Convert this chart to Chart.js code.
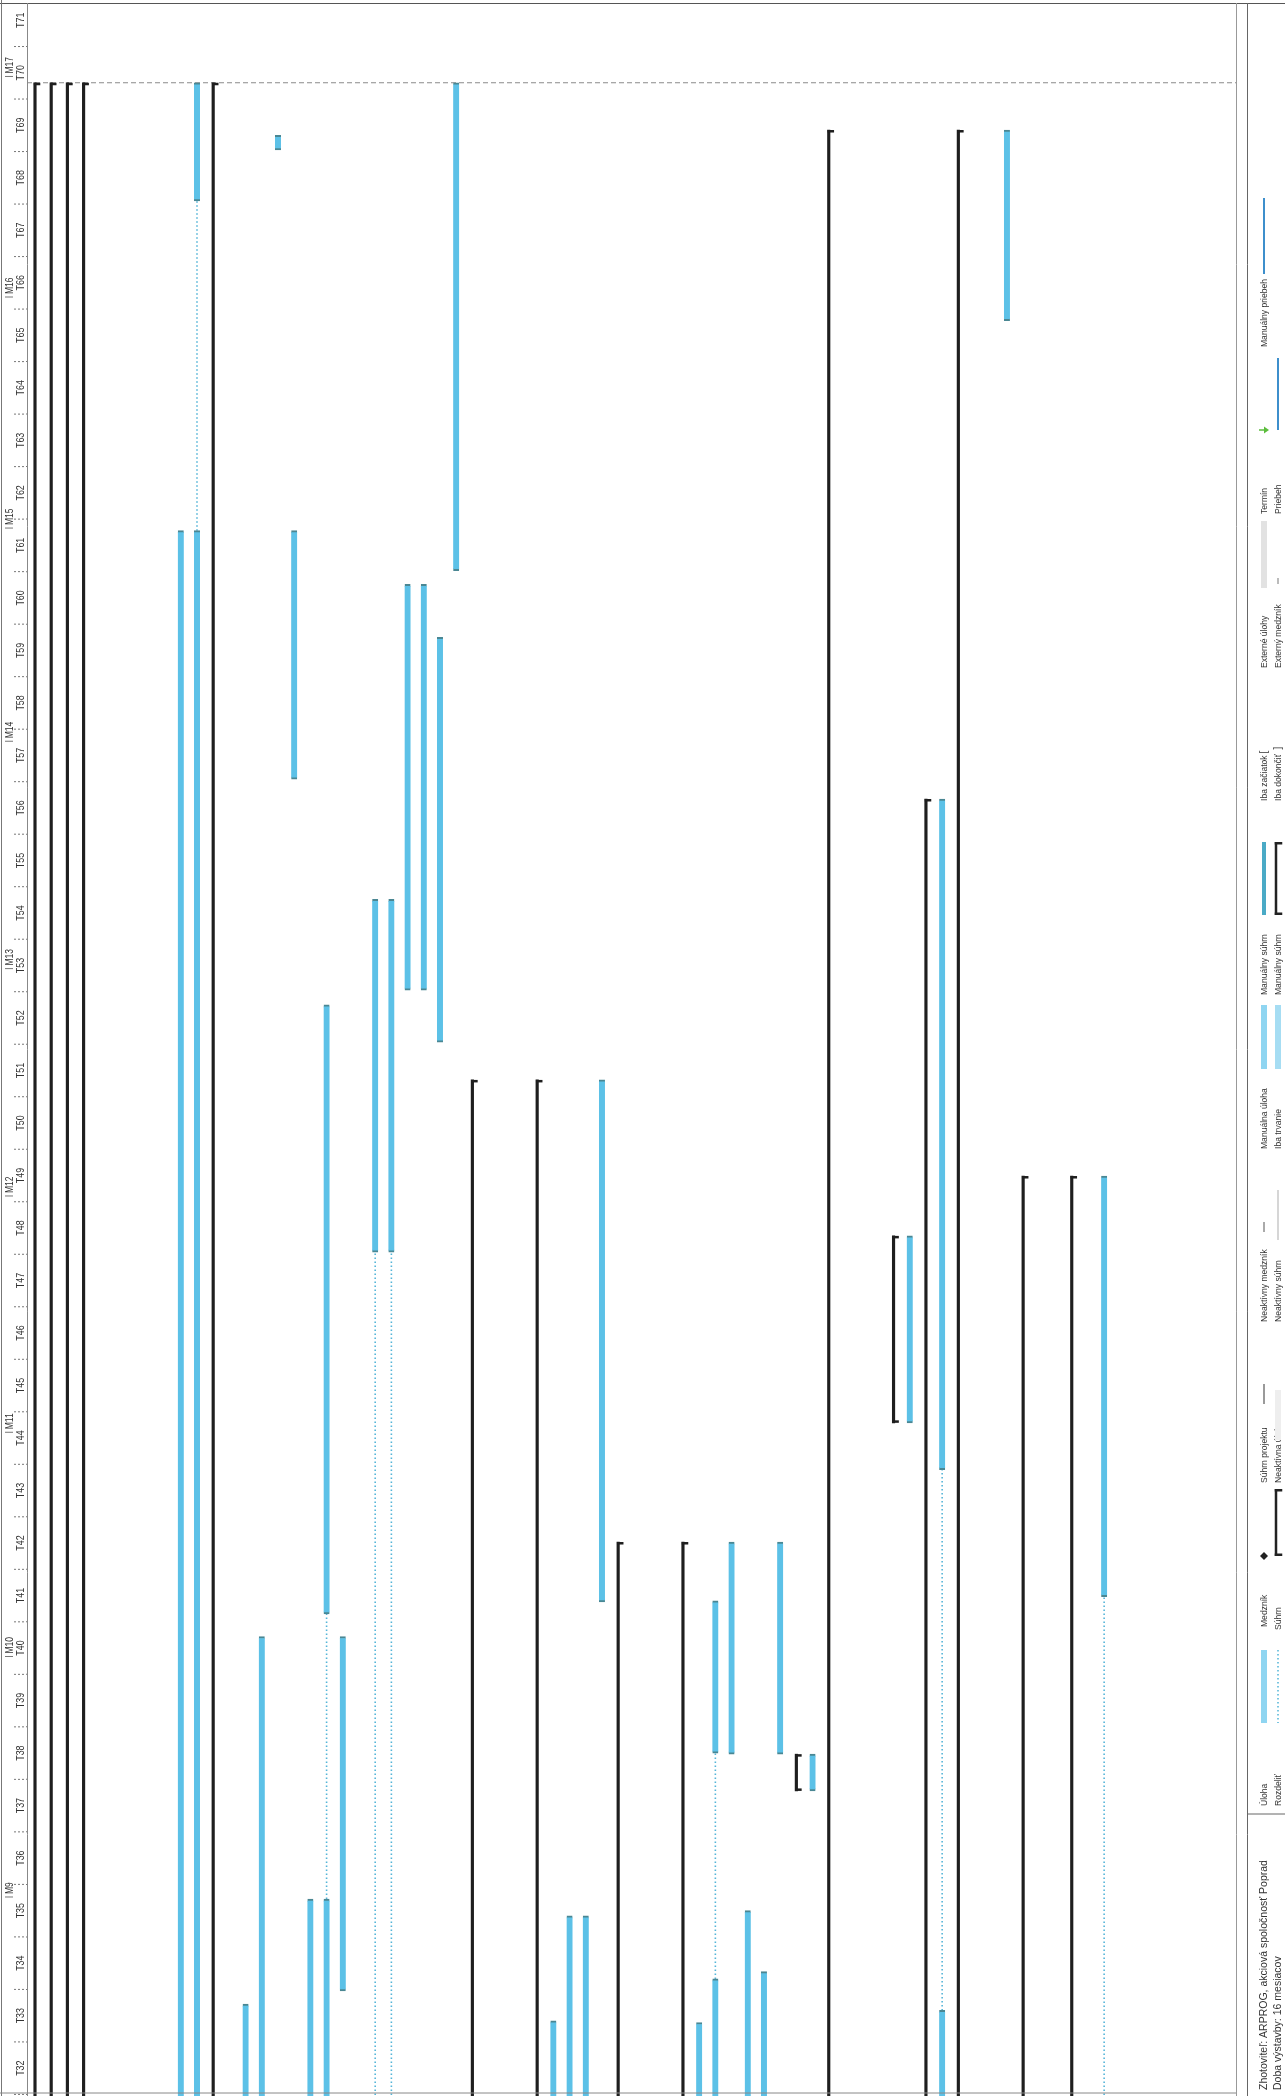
<!DOCTYPE html>
<html>
<head>
<meta charset="utf-8">
<title>Harmonogram</title>
<script src="https://cdn.jsdelivr.net/npm/chart.js@4.4.1/dist/chart.umd.min.js"></script>
<style>
    html, body { margin: 0; padding: 0; background: #fff; overflow: hidden; }
    #wrap { position: relative; width: 1285px; height: 2096px; }
</style>
</head>
<body>
<div id="wrap"><canvas id="gantt"></canvas></div>
<script>
// time is counted in weeks, week Tn covers [n, n+1]
const weekLabels = ['T32', 'T33', 'T34', 'T35', 'T36', 'T37', 'T38', 'T39', 'T40', 'T41',
    'T42', 'T43', 'T44', 'T45', 'T46', 'T47', 'T48', 'T49', 'T50', 'T51',
    'T52', 'T53', 'T54', 'T55', 'T56', 'T57', 'T58', 'T59', 'T60', 'T61',
    'T62', 'T63', 'T64', 'T65', 'T66', 'T67', 'T68', 'T69', 'T70', 'T71'];
const monthLabels = ['M9', 'M10', 'M11', 'M12', 'M13', 'M14', 'M15', 'M16', 'M17'];
const monthStarts = [35.76, 40.34, 44.61, 49.11, 53.44, 57.77, 61.83, 66.23, 70.43];

// task bars (row = line of the schedule, start/end in weeks; 31 = started before T32)
const taskRows   = [9, 10, 10, 13, 14, 15, 16, 17, 18, 18, 19, 21, 22, 23, 24, 25, 26,
    32, 33, 34, 35, 41, 42, 42, 43, 44, 45, 46, 48, 54, 56, 56, 60, 66];
const taskStarts = [31, 68.06, 31, 31, 31, 69.03, 57.05, 31, 41.15, 31, 33.97, 48.04, 48.04, 53.03, 53.03, 52.04, 61.02,
    31, 31, 31, 41.38, 31, 38.50, 31, 38.48, 31, 31, 38.48, 37.78, 44.79, 43.90, 31, 65.78, 41.48];
const taskEnds   = [61.78, 70.31, 61.78, 33.72, 40.72, 69.31, 61.78, 35.72, 52.75, 35.72, 40.72, 54.76, 54.76, 60.76, 60.76, 59.75, 70.31,
    33.40, 35.40, 35.40, 51.32, 33.37, 41.40, 34.20, 42.52, 35.50, 34.34, 42.52, 38.48, 48.35, 56.67, 33.60, 69.41, 49.49];

// summary bars
const summaryRows   = [0, 1, 2, 3, 11, 27, 31, 36, 40, 47, 49, 53, 55, 57, 61, 64];
const summaryStarts = [31, 31, 31, 31, 31, 31, 31, 31, 31, 37.78, 31, 44.79, 31, 31, 31, 31];
const summaryEnds   = [70.31, 70.31, 70.31, 70.31, 70.31, 51.32, 51.32, 42.52, 42.52, 38.48, 69.41, 48.35, 56.67, 69.41, 49.49, 49.49];

// split (dotted) parts of tasks
const splitRows   = [10, 18, 21, 22, 42, 56, 66];
const splitStarts = [61.78, 35.72, 31, 31, 34.20, 33.60, 31];
const splitEnds   = [68.06, 41.15, 48.04, 48.04, 38.50, 43.90, 41.48];

const projectEnd = 70.31;

const viewFrom = 31.97, viewTo = 71.81;   // visible weeks
const rowFrom = -0.494, rowTo = 74.14;    // visible rows

const FONT = '"Liberation Sans", Arial, sans-serif';
const INK = '#333';

function vText(ctx, txt, x, y, size, squeeze, align) {
    ctx.save();
    ctx.translate(x, y);
    ctx.rotate(-Math.PI / 2);
    ctx.scale(squeeze, 1);
    ctx.font = size + 'px ' + FONT;
    ctx.fillStyle = INK;
    ctx.textAlign = align;
    ctx.textBaseline = 'middle';
    ctx.fillText(txt, 0, 0);
    ctx.restore();
}

function hLine(ctx, x1, x2, y, color, w, dash) {
    ctx.save();
    ctx.strokeStyle = color; ctx.lineWidth = w;
    ctx.setLineDash(dash || []);
    ctx.beginPath(); ctx.moveTo(x1, y); ctx.lineTo(x2, y); ctx.stroke();
    ctx.restore();
}
function vLine(ctx, x, y1, y2, color, w, dash) {
    ctx.save();
    ctx.strokeStyle = color; ctx.lineWidth = w;
    ctx.setLineDash(dash || []);
    ctx.beginPath(); ctx.moveTo(x, y1); ctx.lineTo(x, y2); ctx.stroke();
    ctx.restore();
}
function bracket(ctx, x, y1, y2, color, w) {
    // vertical stroke with short ticks to the right at both ends
    ctx.fillStyle = color;
    ctx.fillRect(x - w / 2, y1, w, y2 - y1);
    ctx.fillRect(x - w / 2, y1, w + 5, 2.5);
    ctx.fillRect(x - w / 2, y2 - 2.5, w + 5, 2.5);
}

// Legend (drawn in the right margin, rotated like the printout)
const C1 = 1264, C2 = 1278;
const legendItems = [
    { text: 'Úloha', x: C1, y: 1806, s: 'bar', a: 1650, b: 1723, c: '#8fd5f1' },
    { text: 'Medzník', x: C1, y: 1627, s: 'diamond', a: 1556 },
    { text: 'Súhrn projektu', x: C1, y: 1483, s: 'grey', a: 1384, b: 1404, c: '#9a9a9a' },
    { text: 'Neaktívny medzník', x: C1, y: 1322, s: 'grey', a: 1222, b: 1232, c: '#aaaaaa' },
    { text: 'Manuálna úloha', x: C1, y: 1149, s: 'bar', a: 1005, b: 1069, c: '#8fd5f1' },
    { text: 'Manuálny súhrn', x: C1, y: 995, s: 'bar', a: 842, b: 915, c: '#4aaac6', w: 4 },
    { text: 'Iba začiatok', x: C1, y: 801, s: 'char', ch: '[', a: 752 },
    { text: 'Externé úlohy', x: C1, y: 668, s: 'bar', a: 521, b: 588, c: '#e2e2e2' },
    { text: 'Termín', x: C1, y: 514, s: 'arrow', a: 430 },
    { text: 'Manuálny priebeh', x: C1, y: 347, s: 'bar', a: 198, b: 274, c: '#3d8fcc', w: 2 },
    { text: 'Rozdeliť', x: C2, y: 1806, s: 'dots', a: 1650, b: 1723 },
    { text: 'Súhrn', x: C2, y: 1630, s: 'bracket', a: 1489, b: 1556 },
    { text: 'Neaktívna úloha', x: C2, y: 1483, s: 'bar', a: 1390, b: 1440, c: '#eeeeee' },
    { text: 'Neaktívny súhrn', x: C2, y: 1322, s: 'grey', a: 1190, b: 1240, c: '#d6d6d6' },
    { text: 'Iba trvanie', x: C2, y: 1149, s: 'bar', a: 1005, b: 1069, c: '#a6ddf3' },
    { text: 'Manuálny súhrn', x: C2, y: 995, s: 'bracket', a: 842, b: 915 },
    { text: 'Iba dokončiť', x: C2, y: 801, s: 'char', ch: ']', a: 748 },
    { text: 'Externý medzník', x: C2, y: 668, s: 'grey', a: 578, b: 584, c: '#bbbbbb' },
    { text: 'Priebeh', x: C2, y: 514, s: 'bar', a: 358, b: 430, c: '#3d8fcc', w: 2 }
];

const framePlugin = {
    id: 'frame',
    beforeDraw(chart) {
        const ctx = chart.ctx;
        ctx.save();
        ctx.fillStyle = '#fff';
        ctx.fillRect(0, 0, chart.width, chart.height);
        ctx.restore();
    },
    afterDraw(chart) {
        const ctx = chart.ctx;
        const y = chart.scales.y;
        const area = chart.chartArea;

        // borders
        hLine(ctx, 0, chart.width, 3.5, '#555', 1.2);
        vLine(ctx, 1.5, 0, chart.height, '#777', 1);
        vLine(ctx, area.left + 0.5, 3, chart.height, '#888', 1);
        vLine(ctx, area.right + 0.5, 3, chart.height, '#999', 1);
        vLine(ctx, 1247.5, 3, chart.height, '#666', 1);
        hLine(ctx, 0, area.right, chart.height - 3, '#888', 1);
        hLine(ctx, 1247, chart.width, 1814, '#666', 1);

        // week tier
        ctx.save();
        ctx.beginPath(); ctx.rect(0, 4, area.left, chart.height); ctx.clip();
        weekLabels.forEach(lbl => {
            const n = parseInt(lbl.slice(1), 10);
            vText(ctx, lbl, 21, y.getPixelForValue(n + 0.5), 10.5, 0.85, 'center');
        });
        for (let n = 32; n <= 72; n++) {
            hLine(ctx, 14, area.left, y.getPixelForValue(n), '#777', 1, [2, 2]);
        }
        // month tier
        monthLabels.forEach((lbl, i) => {
            const py = y.getPixelForValue(monthStarts[i]);
            hLine(ctx, 5, 13, py, '#777', 1);
            vText(ctx, lbl, 10, py - 3, 10, 0.85, 'left');
        });
        ctx.restore();

        // legend
        legendItems.forEach(it => {
            vText(ctx, it.text, it.x, it.y, 9.5, 0.9, 'left');
            ctx.save();
            if (it.s === 'bar') {
                const w = it.w || 6;
                ctx.fillStyle = it.c;
                ctx.fillRect(it.x - w / 2, it.a, w, it.b - it.a);
            } else if (it.s === 'grey') {
                ctx.fillStyle = it.c;
                ctx.fillRect(it.x - 1, it.a, 2, it.b - it.a);
            } else if (it.s === 'diamond') {
                ctx.fillStyle = '#222';
                ctx.beginPath();
                ctx.moveTo(it.x, it.a - 4); ctx.lineTo(it.x + 4, it.a);
                ctx.lineTo(it.x, it.a + 4); ctx.lineTo(it.x - 4, it.a);
                ctx.closePath(); ctx.fill();
            } else if (it.s === 'char') {
                vText(ctx, it.ch, it.x, it.a, 10, 1, 'center');
            } else if (it.s === 'arrow') {
                ctx.fillStyle = '#5bbd3c';
                ctx.strokeStyle = '#5bbd3c';
                ctx.lineWidth = 1.5;
                ctx.beginPath(); ctx.moveTo(it.x - 5, it.a); ctx.lineTo(it.x + 1, it.a); ctx.stroke();
                ctx.beginPath();
                ctx.moveTo(it.x + 5, it.a); ctx.lineTo(it.x, it.a - 3.5); ctx.lineTo(it.x, it.a + 3.5);
                ctx.closePath(); ctx.fill();
            } else if (it.s === 'dots') {
                vLine(ctx, it.x, it.a, it.b, '#5ab8da', 1.6, [1.5, 2.5]);
            } else if (it.s === 'bracket') {
                bracket(ctx, it.x - 2, it.a, it.b, '#222', 2.5);
            }
            ctx.restore();
        });

        // footer
        const fy = chart.height - 6;
        ctx.save();
        ctx.translate(C1, fy); ctx.rotate(-Math.PI / 2);
        ctx.font = '10.5px ' + FONT; ctx.fillStyle = INK;
        ctx.textBaseline = 'middle'; ctx.textAlign = 'left';
        ctx.fillText('Zhotoviteľ: ARPROG, akciová spoločnosť Poprad', 0, 0);
        ctx.restore();
        ctx.save();
        ctx.translate(C2, fy); ctx.rotate(-Math.PI / 2);
        ctx.font = '10.5px ' + FONT; ctx.fillStyle = INK;
        ctx.textBaseline = 'middle'; ctx.textAlign = 'left';
        ctx.fillText('Doba výstavby: 16 mesiacov', 0, 0);
        ctx.restore();
    }
};

// end brackets on summary bars
const summaryCaps = {
    id: 'summaryCaps',
    afterDatasetsDraw(chart) {
        const ctx = chart.ctx;
        const area = chart.chartArea;
        const meta = chart.getDatasetMeta(1);
        ctx.save();
        ctx.beginPath(); ctx.rect(area.left, area.top, area.right - area.left, area.bottom - area.top); ctx.clip();
        ctx.fillStyle = '#1e1e1e';
        meta.data.forEach(bar => {
            ctx.fillRect(bar.x - 1.2, bar.y, 6.5, 2.5);
            if (bar.base < area.bottom) ctx.fillRect(bar.x - 1.2, bar.base - 2.5, 6.5, 2.5);
        });
        ctx.restore();
    }
};

const splitSets = splitRows.map((r, i) => ({
    type: 'line',
    data: [{ x: r, y: splitStarts[i] }, { x: r, y: splitEnds[i] }],
    borderColor: '#55b5d8',
    borderWidth: 1.6,
    borderDash: [1.5, 2.5],
    pointRadius: 0,
    order: 5
}));

const ctx = document.getElementById('gantt').getContext('2d');
new Chart(ctx, {
    type: 'bar',
    data: {
        datasets: [
            {
                label: 'Úloha',
                data: taskRows.map((r, i) => ({ x: r, y: [taskStarts[i], taskEnds[i]] })),
                backgroundColor: '#5cc1e7',
                borderColor: '#4a8793',
                borderWidth: { top: 2, bottom: 2, left: 0, right: 0 },
                borderSkipped: false,
                barThickness: 6,
                grouped: false,
                order: 1
            },
            {
                label: 'Súhrn',
                data: summaryRows.map((r, i) => ({ x: r, y: [summaryStarts[i], summaryEnds[i]] })),
                backgroundColor: '#1e1e1e',
                borderWidth: 0,
                barThickness: 2.5,
                grouped: false,
                order: 2
            },
            {
                type: 'line',
                label: 'Koniec',
                data: [{ x: rowFrom, y: projectEnd }, { x: rowTo, y: projectEnd }],
                borderColor: '#8a8a8a',
                borderWidth: 1,
                borderDash: [5, 3],
                pointRadius: 0,
                order: 6
            },
            ...splitSets
        ]
    },
    options: {
        responsive: true,
        maintainAspectRatio: false,
        animation: false,
        devicePixelRatio: 1,
        layout: { padding: { left: 27, right: 49, top: 4, bottom: 0 } },
        plugins: {
            legend: { display: false },
            tooltip: { enabled: false }
        },
        scales: {
            x: { type: 'linear', min: rowFrom, max: rowTo, offset: false, display: false },
            y: { type: 'linear', min: viewFrom, max: viewTo, display: false }
        }
    },
    plugins: [framePlugin, summaryCaps]
});
</script>
</body>
</html>
